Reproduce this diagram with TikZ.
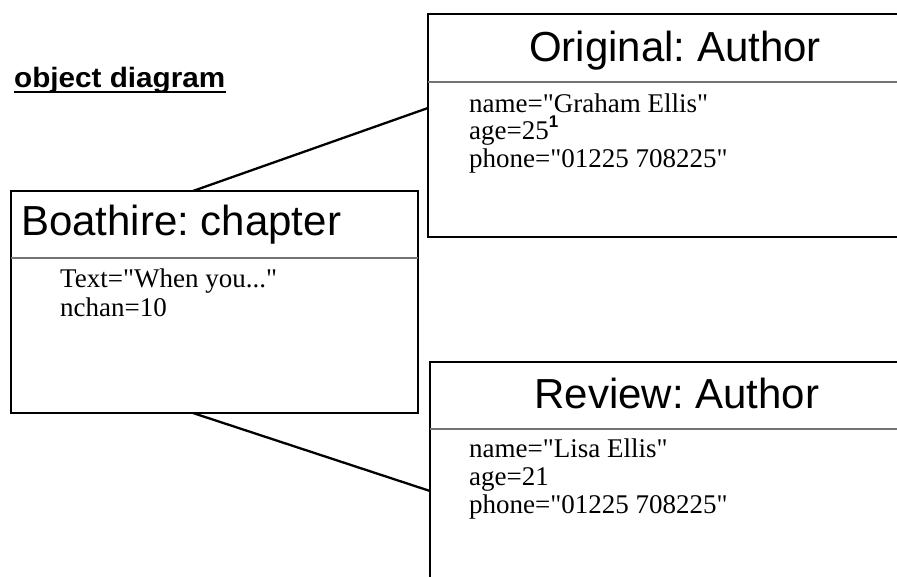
\documentclass[tikz,border=0pt]{standalone}
\usepackage{fontspec}
\setmainfont{Liberation Serif}[Ligatures=TeXOff]
\newfontfamily\headfont{Liberation Sans}[Ligatures=TeXOff]
\usetikzlibrary{calc}
\frenchspacing
\begin{document}
\begin{tikzpicture}[x=1pt,y=-1pt,
  objbox/.style={draw, line width=2.8pt, rectangle, anchor=north west,
    inner sep=0pt, outer sep=0pt},
  divider/.style={draw=black!55, line width=1.1pt},
  link/.style={draw, line width=2.3pt},
  objtitle/.style={inner sep=0pt, font=\headfont\fontsize{42}{42}\selectfont},
  attr/.style={inner sep=0pt, anchor=base west, font=\fontsize{27}{27}\selectfont},
  heading/.style={inner sep=0pt, anchor=base west,
    font=\headfont\bfseries\fontsize{28}{28}\selectfont},
]
\useasboundingbox (0,0) rectangle (897,577);
\clip (0,0) rectangle (897,577);

% heading
\node[heading] (hd) at (14,88) {\scalebox{1.06}[1]{object diagram}};
\draw[line width=1.8pt] ($(hd.base west)+(0,4)$) -- ($(hd.base east)+(0,4)$);

% object boxes
\node[objbox, minimum width=494pt, minimum height=223pt] (orig) at (428,14) {};
\node[objbox, minimum width=407pt, minimum height=222pt] (boat) at (11,191) {};
\node[objbox, minimum width=494pt, minimum height=280pt] (rev) at (430,362) {};

% name compartments
\draw[divider] ($(orig.north west)+(0,68)$) -- ($(orig.north east)+(0,68)$);
\draw[divider] ($(boat.north west)+(0,67)$) -- ($(boat.north east)+(0,67)$);
\draw[divider] ($(rev.north west)+(0,67)$) -- ($(rev.north east)+(0,67)$);

% titles
\node[objtitle, anchor=base] (origT) at (675,62) {Original: Author};
\node[objtitle, anchor=base west] (boatT) at (21,236) {Boathire: chapter};
\node[objtitle, anchor=base] (revT) at (677,408) {Review: Author};

% attributes
\node[attr] (o1) at (469,113) {name="Graham Ellis"};
\node[attr] (o2) at (469,140) {age=25\raisebox{12pt}[0pt][0pt]{\headfont\bfseries\fontsize{17}{17}\selectfont 1}};
\node[attr] (o3) at (469,168) {phone="01225 708225"};

\node[attr] (b1) at (60,288) {Text="When you..."};
\node[attr] (b2) at (60,317) {nchan=10};

\node[attr] (r1) at (469,457) {name="Lisa Ellis"};
\node[attr] (r2) at (469,485) {age=21};
\node[attr] (r3) at (469,513) {phone="01225 708225"};

% links
\draw[link] ($(boat.north west)!0.447!(boat.north east)$) -- ($(orig.north west)+(0,94)$);
\draw[link] ($(boat.south west)!0.447!(boat.south east)$) -- ($(rev.north west)+(0,129)$);
\end{tikzpicture}
\end{document}
